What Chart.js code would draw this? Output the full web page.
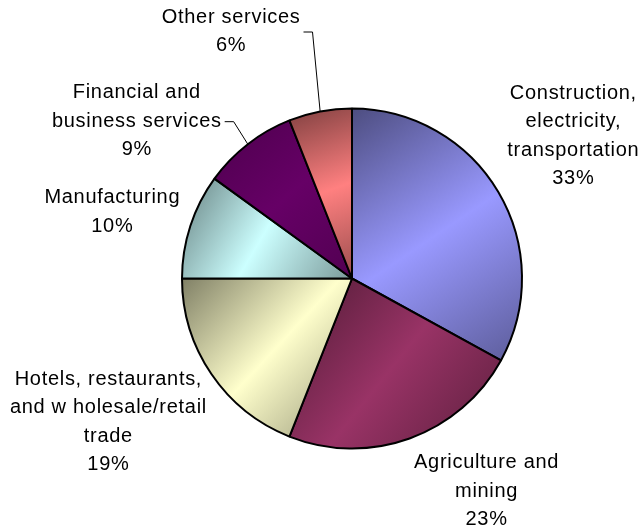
<!DOCTYPE html>
<html>
<head>
<meta charset="utf-8">
<script src="https://cdn.jsdelivr.net/npm/chart.js@4/dist/chart.umd.min.js"></script>
<style>
  html, body { margin: 0; padding: 0; background: #fff; }
  #wrap { width: 639px; height: 531px; }
</style>
</head>
<body>
<div id="wrap"><canvas id="pie" width="639" height="531"></canvas></div>
<script>
// sectors, clockwise from 12 o'clock
const categories = [
  ['Construction,', 'electricity,', 'transportation'],
  ['Agriculture and', 'mining'],
  ['Hotels, restaurants,', 'and w holesale/retail', 'trade'],
  ['Manufacturing'],
  ['Financial and', 'business services'],
  ['Other services']
];
const shares = [33, 23, 19, 10, 9, 6];
const sliceColors = ['#9999FF', '#993366', '#FFFFCC', '#CCFFFF', '#660066', '#FF8080'];

// where each label sits, relative to the rim point at the middle of its slice
const labelOffsets = [
  { dx: 75, dy: -56 },
  { dx: 77, dy: 53 },
  { dx: -103, dy: 48 },
  { dx: -78, dy: -14 },
  { dx: -111, dy: -23, leader: true },
  { dx: -89, dy: -80, leader: true }
];

const pieRadius = 170;
const labelFont = '20px "Liberation Sans", Arial, sans-serif';
const lineHeight = 28.5;

function shade(hex, f) {
  const n = parseInt(hex.slice(1), 16);
  const r = Math.round(((n >> 16) & 255) * f);
  const g = Math.round(((n >> 8) & 255) * f);
  const b = Math.round((n & 255) * f);
  return 'rgb(' + r + ',' + g + ',' + b + ')';
}

// diagonal dark-light-dark fill across each slice's bounding box
function sliceFill(context) {
  const i = context.dataIndex;
  const chart = context.chart;
  const area = chart.chartArea;
  if (!area || i === undefined) return sliceColors[i] || '#ccc';
  const cx = (area.left + area.right) / 2;
  const cy = (area.top + area.bottom) / 2;
  const total = shares.reduce((a, b) => a + b, 0);
  let before = 0;
  for (let k = 0; k < i; k++) before += shares[k];
  const a0 = -Math.PI / 2 + 2 * Math.PI * before / total;
  const a1 = -Math.PI / 2 + 2 * Math.PI * (before + shares[i]) / total;
  const pts = [[cx, cy], [cx + pieRadius * Math.cos(a0), cy + pieRadius * Math.sin(a0)],
               [cx + pieRadius * Math.cos(a1), cy + pieRadius * Math.sin(a1)]];
  for (let q = -2; q <= 4; q++) {
    const a = q * Math.PI / 2;
    if (a > a0 && a < a1) pts.push([cx + pieRadius * Math.cos(a), cy + pieRadius * Math.sin(a)]);
  }
  const xs = pts.map(p => p[0]), ys = pts.map(p => p[1]);
  const g = chart.ctx.createLinearGradient(Math.min(...xs), Math.min(...ys), Math.max(...xs), Math.max(...ys));
  // the dark purple slice barely changes tone
  const deep = sliceColors[i] === '#660066';
  g.addColorStop(0, shade(sliceColors[i], deep ? 0.75 : 0.5));
  g.addColorStop(0.5, sliceColors[i]);
  g.addColorStop(1, shade(sliceColors[i], deep ? 0.8 : 0.6));
  return g;
}

const sliceLabels = {
  id: 'sliceLabels',
  afterDraw(chart) {
    const ctx = chart.ctx;
    const arcs = chart.getDatasetMeta(0).data;
    const total = shares.reduce((a, b) => a + b, 0);
    ctx.save();
    ctx.font = labelFont;
    ctx.letterSpacing = '0.7px';
    ctx.fillStyle = '#000';
    ctx.textAlign = 'center';
    ctx.textBaseline = 'middle';
    arcs.forEach((arc, i) => {
      const mid = (arc.startAngle + arc.endAngle) / 2;
      const rx = arc.x + arc.outerRadius * Math.cos(mid);
      const ry = arc.y + arc.outerRadius * Math.sin(mid);
      const place = labelOffsets[i];
      const lx = rx + place.dx;
      const ly = ry + place.dy;
      const lines = categories[i].concat([Math.round(shares[i] / total * 100) + '%']);
      let w = 0;
      lines.forEach((t, j) => {
        const y = ly + (j - (lines.length - 1) / 2) * lineHeight;
        ctx.fillText(t, lx, y);
        w = Math.max(w, ctx.measureText(t).width);
      });
      if (place.leader) {
        const x0 = lx + w / 2 + 3;
        ctx.beginPath();
        ctx.strokeStyle = '#000';
        ctx.lineWidth = 1;
        ctx.moveTo(x0, ly + 0.5);
        ctx.lineTo(x0 + 9, ly + 0.5);
        ctx.lineTo(rx, ry);
        ctx.stroke();
      }
    });
    ctx.restore();
  }
};

new Chart(document.getElementById('pie'), {
  type: 'pie',
  data: {
    labels: categories,
    datasets: [{
      data: shares,
      backgroundColor: sliceFill,
      borderColor: '#000',
      borderWidth: 2
    }]
  },
  options: {
    responsive: false,
    animation: false,
    radius: pieRadius,
    layout: { padding: { left: 182, top: 109, right: 117, bottom: 83 } },
    plugins: {
      legend: { display: false },
      tooltip: { enabled: false }
    }
  },
  plugins: [sliceLabels]
});
</script>
</body>
</html>
